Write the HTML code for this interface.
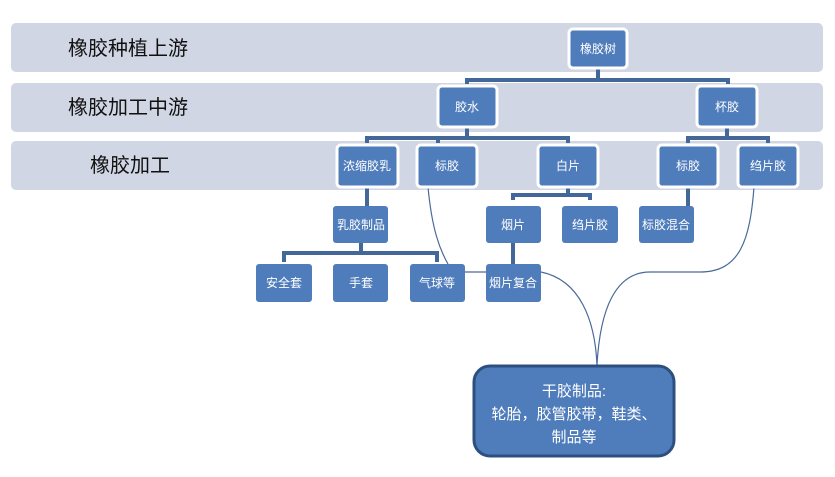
<!DOCTYPE html>
<html><head><meta charset="utf-8"><style>
body{margin:0;background:#fff;}
svg text{font-family:"Liberation Sans","Noto Sans CJK SC",sans-serif;}
</style></head><body>
<svg width="835" height="472" viewBox="0 0 835 472" xmlns="http://www.w3.org/2000/svg">
<rect x="11" y="23" width="812" height="49" rx="5" fill="#d1d6e5"/>
<rect x="11" y="83" width="812" height="49" rx="5" fill="#d1d6e5"/>
<rect x="11" y="141" width="812" height="49" rx="5" fill="#d1d6e5"/>
<g font-size="20" fill="#111">
<text x="68" y="55">橡胶种植上游</text>
<text x="68" y="114">橡胶加工中游</text>
<text x="90" y="172">橡胶加工</text>
</g>
<g stroke="#44679a" stroke-width="4" fill="none">
<path d="M598 66V80M467 84V80H728V84"/>
<path d="M467 126V138M367 143V138H568V143M438 138V143"/>
<path d="M727 126V138M688 143V138H768V143"/>
<path d="M367 187V206M568 187V195M513 200V195H590V200M688 187V206"/>
<path d="M361 243V253M284 262V253H437V262M513 243V264"/>
</g>
<g stroke="#4a6a9a" stroke-width="1.2" fill="none">
<path d="M428 187C432 230 440 250 448 264"/>
<path d="M465 272H486"/>
<path d="M541 272C580 280 595 320 597 365"/>
<path d="M754 187C750 240 740 272 700 272H650C615 272 600 310 597 365"/>
</g>
<g fill="#4f7cbb" stroke="#fff" stroke-width="3">
<rect x="569" y="29" width="58" height="39" rx="4"/>
<rect x="438" y="86" width="59" height="41" rx="4"/>
<rect x="697" y="86" width="60" height="41" rx="4"/>
<rect x="337" y="145" width="61" height="42" rx="4"/>
<rect x="417" y="145" width="60" height="42" rx="4"/>
<rect x="538" y="145" width="60" height="42" rx="4"/>
<rect x="658" y="145" width="60" height="42" rx="4"/>
<rect x="738" y="145" width="60" height="42" rx="4"/>
</g>
<g fill="#4f7cbb">
<rect x="333" y="206" width="55" height="37" rx="3"/>
<rect x="486" y="206" width="55" height="37" rx="3"/>
<rect x="562" y="206" width="56" height="37" rx="3"/>
<rect x="639" y="206" width="55" height="37" rx="3"/>
<rect x="256" y="264" width="56" height="38" rx="3"/>
<rect x="333" y="264" width="55" height="38" rx="3"/>
<rect x="410" y="264" width="55" height="38" rx="3"/>
<rect x="486" y="264" width="55" height="38" rx="3"/>
</g>
<rect x="474" y="366" width="200" height="90" rx="16" fill="#4f7cbb" stroke="#2d4f80" stroke-width="3"/>
<g fill="#fff" font-size="12" text-anchor="middle">
<text x="598" y="53">橡胶树</text>
<text x="467" y="111">胶水</text>
<text x="727" y="111">杯胶</text>
<text x="367" y="170">浓缩胶乳</text>
<text x="447" y="170">标胶</text>
<text x="568" y="170">白片</text>
<text x="688" y="170">标胶</text>
<text x="768" y="170">绉片胶</text>
<text x="361" y="229">乳胶制品</text>
<text x="513" y="229">烟片</text>
<text x="590" y="229">绉片胶</text>
<text x="666" y="229">标胶混合</text>
<text x="284" y="287">安全套</text>
<text x="361" y="287">手套</text>
<text x="437" y="287">气球等</text>
<text x="513" y="287">烟片复合</text>
</g>
<g fill="#fff" font-size="15" text-anchor="middle">
<text x="574" y="396">干胶制品:</text>
<text x="574" y="419">轮胎，胶管胶带，鞋类、</text>
<text x="574" y="442">制品等</text>
</g>
</svg>
</body></html>
